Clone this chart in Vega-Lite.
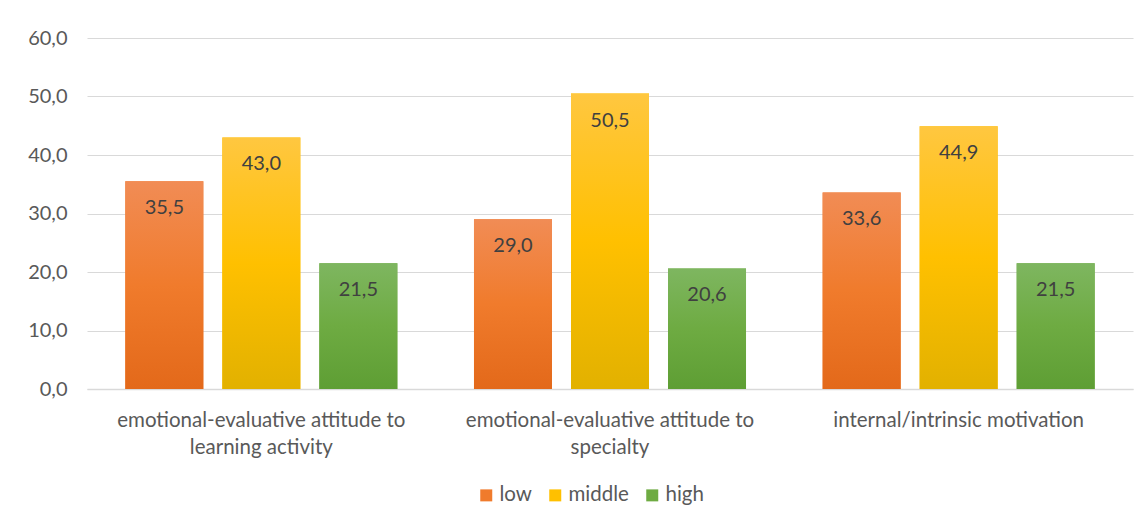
{
  "$schema": "https://vega.github.io/schema/vega-lite/v6.json",
  "width": 1046,
  "height": 351,
  "autosize": "none",
  "padding": {"left": 87, "top": 38, "right": 14, "bottom": 134},
  "background": "white",
  "config": {
    "locale": {"number": {"decimal": ",", "thousands": " ", "grouping": [3], "currency": ["", ""]}},
    "view": {"stroke": null},
    "font": "Lato"
  },
  "data": {
    "values": [
      {"category": "emotional-evaluative attitude to learning activity", "level": "low", "value": 35.5},
      {"category": "emotional-evaluative attitude to learning activity", "level": "middle", "value": 43.0},
      {"category": "emotional-evaluative attitude to learning activity", "level": "high", "value": 21.5},
      {"category": "emotional-evaluative attitude to specialty", "level": "low", "value": 29.0},
      {"category": "emotional-evaluative attitude to specialty", "level": "middle", "value": 50.5},
      {"category": "emotional-evaluative attitude to specialty", "level": "high", "value": 20.6},
      {"category": "internal/intrinsic motivation", "level": "low", "value": 33.6},
      {"category": "internal/intrinsic motivation", "level": "middle", "value": 44.9},
      {"category": "internal/intrinsic motivation", "level": "high", "value": 21.5}
    ]
  },
  "encoding": {
    "x": {
      "field": "category",
      "type": "nominal",
      "sort": ["emotional-evaluative attitude to learning activity", "emotional-evaluative attitude to specialty", "internal/intrinsic motivation"],
      "scale": {"paddingInner": 0, "paddingOuter": 0},
      "axis": {
        "title": null,
        "labelAngle": 0,
        "labelLimit": 0,
        "labelFontSize": 20.5,
        "labelColor": "#595959",
        "labelPadding": 21,
        "labelLineHeight": 27,
        "ticks": false,
        "domainColor": "#d9d9d9",
        "domainWidth": 1.5,
        "labelExpr": "datum.value == 'emotional-evaluative attitude to learning activity' ? ['emotional-evaluative attitude to', 'learning activity'] : datum.value == 'emotional-evaluative attitude to specialty' ? ['emotional-evaluative attitude to', 'specialty'] : datum.value"
      }
    },
    "xOffset": {
      "field": "level",
      "type": "nominal",
      "sort": ["low", "middle", "high"],
      "scale": {"domain": ["low", "middle", "high"], "paddingInner": 0.196, "paddingOuter": 0.395}
    },
    "y": {
      "field": "value",
      "type": "quantitative",
      "scale": {"domain": [0, 60]},
      "axis": {
        "title": null,
        "values": [0, 10, 20, 30, 40, 50, 60],
        "format": ".1f",
        "domain": false,
        "ticks": false,
        "gridColor": "#d9d9d9",
        "gridWidth": 1.2,
        "labelFontSize": 20,
        "labelColor": "#595959",
        "labelPadding": 20
      }
    }
  },
  "layer": [
    {
      "mark": {"type": "bar"},
      "encoding": {
        "color": {
          "field": "level",
          "type": "nominal",
          "sort": ["low", "middle", "high"],
          "scale": {"domain": ["low", "middle", "high"], "range": ["#f07b2c", "#ffc000", "#6eab42"]},
          "legend": {
            "title": null,
            "orient": "none",
            "direction": "horizontal",
            "legendX": 389,
            "legendY": 447,
            "symbolType": "square",
            "symbolSize": 144,
            "symbolStrokeWidth": 0,
            "labelFontSize": 20.5,
            "labelColor": "#595959",
            "labelOffset": 3,
            "columnPadding": 13
          }
        }
      }
    },
    {
      "transform": [{"filter": "datum.level == 'low'"}],
      "mark": {"type": "bar", "color": {"gradient": "linear", "x1": 0, "y1": 0, "x2": 0, "y2": 1, "stops": [{"offset": 0, "color": "#f18c55"}, {"offset": 0.5, "color": "#f07b2c"}, {"offset": 1, "color": "#e3691a"}]}},
      "encoding": {}
    },
    {
      "transform": [{"filter": "datum.level == 'middle'"}],
      "mark": {"type": "bar", "color": {"gradient": "linear", "x1": 0, "y1": 0, "x2": 0, "y2": 1, "stops": [{"offset": 0, "color": "#ffc740"}, {"offset": 0.5, "color": "#ffc000"}, {"offset": 1, "color": "#e2b100"}]}},
      "encoding": {}
    },
    {
      "transform": [{"filter": "datum.level == 'high'"}],
      "mark": {"type": "bar", "color": {"gradient": "linear", "x1": 0, "y1": 0, "x2": 0, "y2": 1, "stops": [{"offset": 0, "color": "#7eb660"}, {"offset": 0.5, "color": "#6eab42"}, {"offset": 1, "color": "#5e9e34"}]}},
      "encoding": {}
    },
    {
      "mark": {"type": "text", "baseline": "middle", "dy": 27, "fontSize": 20, "color": "#404040"},
      "encoding": {
        "text": {"field": "value", "type": "quantitative", "format": ".1f"}
      }
    }
  ]
}
